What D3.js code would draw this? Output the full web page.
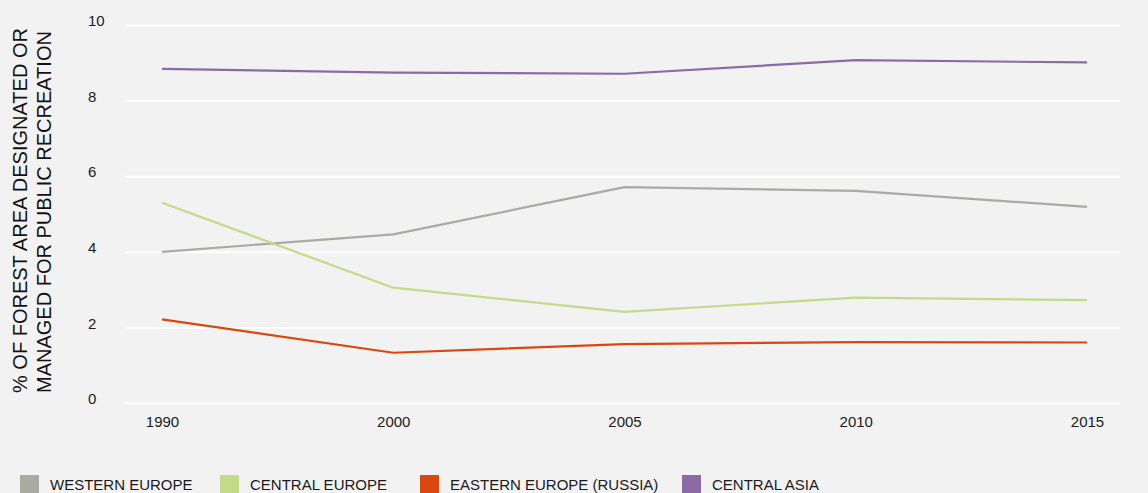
<!DOCTYPE html>
<html>
<head>
<meta charset="utf-8">
<script src="https://cdn.jsdelivr.net/npm/d3@7"></script>
<style>
  html, body { margin: 0; padding: 0; background: #f2f2f2; }
  svg { display: block; font-family: "Liberation Sans", Arial, sans-serif; }
</style>
</head>
<body>
<svg id="chart" width="1148" height="493"></svg>
<script>
const years = ["1990", "2000", "2005", "2010", "2015"];
const yTicks = [0, 2, 4, 6, 8, 10];
const seriesNames = ["WESTERN EUROPE", "CENTRAL EUROPE", "EASTERN EUROPE (RUSSIA)", "CENTRAL ASIA"];
const seriesColors = ["#a9aaa1", "#c2db8a", "#d9480f", "#8b6aa6"];
const westernEurope = [4.0, 4.46, 5.71, 5.61, 5.19];
const centralEurope = [5.30, 3.05, 2.41, 2.79, 2.72];
const easternEurope = [2.21, 1.33, 1.56, 1.61, 1.60];
const centralAsia = [8.84, 8.74, 8.71, 9.07, 9.01];
const seriesValues = [westernEurope, centralEurope, easternEurope, centralAsia];
const yTitleLines = ["% OF FOREST AREA DESIGNATED OR", "MANAGED FOR PUBLIC RECREATION"];

const svg = d3.select("#chart");
const W = 1148, H = 493;
const plot = { left: 125, right: 1120, top: 25, bottom: 403 };

svg.append("rect").attr("width", W).attr("height", H).attr("fill", "#f2f2f2");

const y = d3.scaleLinear().domain([0, 10]).range([plot.bottom, plot.top]);
const x = d3.scalePoint().domain(years).range([162, 1087]);

// Y axis with gridlines
const yAxis = svg.append("g")
  .attr("transform", `translate(${plot.left},0)`)
  .call(d3.axisLeft(y).tickValues(yTicks).tickSize(-(plot.right - plot.left)).tickFormat(d3.format("d")));
yAxis.select(".domain").remove();
yAxis.selectAll(".tick line").attr("stroke", "#ffffff").attr("stroke-width", 2);
yAxis.selectAll(".tick text")
  .attr("x", -37).attr("dy", "0.05em")
  .attr("text-anchor", "start")
  .attr("fill", "#1a1a1a")
  .style("font-size", "15px")
  .style("font-family", "'Liberation Sans', Arial, sans-serif");

// X axis labels
const xAxis = svg.append("g")
  .attr("transform", `translate(0,${plot.bottom})`)
  .call(d3.axisBottom(x).tickSize(0));
xAxis.select(".domain").remove();
xAxis.selectAll(".tick text")
  .attr("y", 24).attr("dy", 0)
  .attr("fill", "#1a1a1a")
  .style("font-size", "15px")
  .style("font-family", "'Liberation Sans', Arial, sans-serif");

// Lines
const line = d3.line().x((d, i) => x(years[i])).y(d => y(d));
seriesValues.forEach((vals, k) => {
  svg.append("path")
    .datum(vals)
    .attr("fill", "none")
    .attr("stroke", seriesColors[k])
    .attr("stroke-width", 2.2)
    .attr("stroke-linejoin", "round")
    .attr("d", line);
});

// Y title
const yTitle = svg.append("text")
  .attr("transform", "translate(27,393) rotate(-90)")
  .attr("text-anchor", "start")
  .attr("fill", "#111")
  .style("font-size", "20px");
yTitleLines.forEach((t, i) => {
  yTitle.append("tspan").attr("x", 0).attr("dy", i === 0 ? 0 : 24).text(t);
});

// Legend
const legendX = [20, 220, 420, 682];
const legend = svg.append("g");
seriesNames.forEach((name, k) => {
  legend.append("rect")
    .attr("x", legendX[k]).attr("y", 475)
    .attr("width", 19).attr("height", 19)
    .attr("fill", seriesColors[k]);
  legend.append("text")
    .attr("x", legendX[k] + 30).attr("y", 490)
    .attr("fill", "#1a1a1a")
    .style("font-size", "15px")
    .text(name);
});
</script>
</body>
</html>
